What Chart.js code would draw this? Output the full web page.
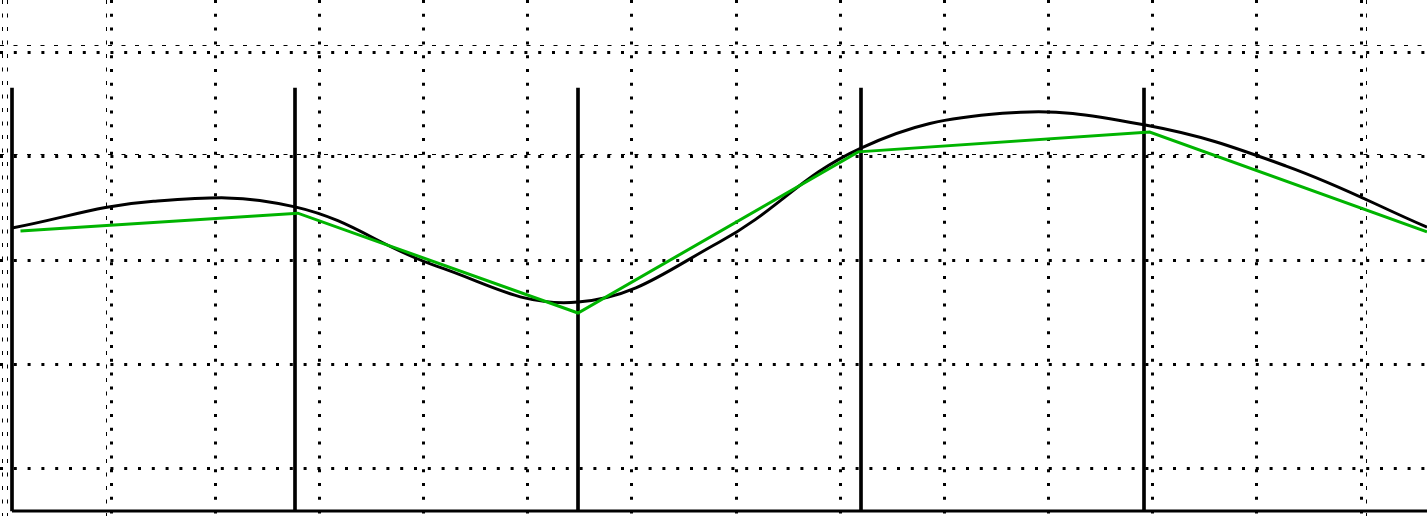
<!DOCTYPE html>
<html>
<head>
<meta charset="utf-8">
<script src="https://cdn.jsdelivr.net/npm/chart.js@4/dist/chart.umd.min.js"></script>
<style>
  html, body { margin: 0; padding: 0; background: #fff; }
  canvas { display: block; }
</style>
</head>
<body>
<canvas id="chart" width="1427" height="516"></canvas>
<script>
// solid frame verticals (x in segment units) and their common height
const frameX = [0, 1, 2, 3, 4];
const frameTop = 100;

// smooth black series
const curveX = [0, 0.5, 1, 1.5, 2, 2.5, 3, 3.5, 4, 4.5, 5];
const curveY = [66.9, 73.2, 71.9, 57.9, 49.4, 63.6, 85.8, 94.0, 91.3, 81.6, 67.1];

// green polyline
const greenX = [0.03, 1.01, 2, 2.99, 4.02, 5];
const greenY = [66.2, 70.4, 46.8, 84.9, 89.6, 66.0];

// grid positions (grid units)
const dotCols = [0, 1, 2, 3, 4, 5, 6, 7, 8, 9, 10, 11, 12];
const dotRows = [0, 1, 2, 3, 4];
const dashCols = [-1.04, -0.995, -0.048, 12.048];
const dashRows = [3.01, 4.06];

const pts = (xs, ys) => xs.map((x, i) => ({ x: x, y: ys[i] }));

function gridAxis(axis, position, min, max, list, width, dash) {
  return {
    type: "linear",
    axis: axis,
    position: position,
    offset: false,
    min: min,
    max: max,
    afterBuildTicks: (a) => {
      a.ticks = list.map((v) => ({ value: v }));
    },
    ticks: { display: false },
    grid: { drawTicks: false, offset: false, lineWidth: width, color: "#000" },
    border: { display: false, dash: dash },
  };
}

const config = {
  type: "line",
  data: {
    datasets: [
      {
        label: "curve",
        data: pts(curveX, curveY),
        borderColor: "#000",
        borderWidth: 3,
        tension: 0.4,
        pointRadius: 0,
        fill: false,
        order: 1,
      },
      {
        label: "green",
        data: pts(greenX, greenY),
        borderColor: "#00b400",
        borderWidth: 3,
        tension: 0,
        pointRadius: 0,
        fill: false,
        order: 0,
      },
      {
        label: "base",
        data: pts([frameX[0], curveX[curveX.length - 1]], [0, 0]),
        borderColor: "#000",
        borderWidth: 3,
        pointRadius: 0,
        fill: false,
        order: 2,
      },
      {
        type: "bar",
        label: "frame",
        data: pts(frameX, frameX.map(() => frameTop)),
        backgroundColor: "#000",
        barThickness: 3,
        order: 3,
      },
    ],
  },
  options: {
    responsive: false,
    animation: false,
    devicePixelRatio: 1,
    layout: { padding: 0 },
    plugins: { legend: { display: false }, tooltip: { enabled: false } },
    scales: {
      x: { type: "linear", display: false, offset: false, min: -0.0424, max: 5 },
      y: { type: "linear", display: false, min: -1.18, max: 120.8 },
      gx: gridAxis("x", "bottom", -1.0656, 12.633, dotCols, 3, [3, 10.8]),
      gy: gridAxis("y", "left", -0.4615, 4.5, dotRows, 3, [3, 10.8]),
      tx: gridAxis("x", "bottom", -1.0656, 12.633, dashCols, 1, [4, 9.5]),
      ty: gridAxis("y", "left", -0.4615, 4.5, dashRows, 1, [4, 9.5]),
    },
  },
};

new Chart(document.getElementById("chart"), config);
</script>
</body>
</html>
